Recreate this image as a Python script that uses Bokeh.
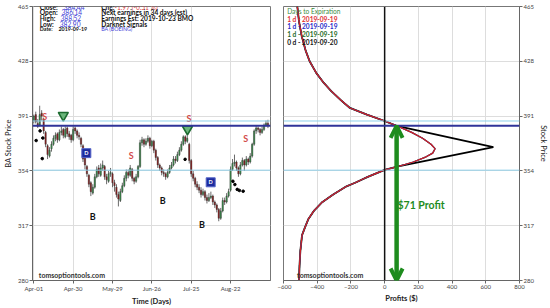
from bokeh.plotting import figure
from bokeh.layouts import row
from bokeh.models import ColumnDataSource, FixedTicker, Span, Label, Arrow, OpenHead
from bokeh.core.properties import value
from bokeh.embed import file_html
from bokeh.resources import INLINE

# ---------------- data ----------------
tick_idx = [0, 20, 40, 60, 80, 100]
tick_labels = ["Apr-01", "Apr-30", "May-29", "Jun-26", "Jul-25", "Aug-22"]
price_ticks = [280, 317, 354, 391, 428, 465]
profit_ticks = [-600, -400, -200, 0, 200, 400, 600, 800]

opens = [388, 392, 386, 385, 393, 389, 380, 371, 364, 369,
         372, 376, 379, 375, 380, 382, 377, 383, 379, 378,
         375, 383, 381, 378, 376, 371, 363, 357, 351, 346,
         339, 343, 350, 356, 351, 356, 357, 350, 347, 352,
         352, 346, 343, 338, 334, 340, 344, 349, 353, 351,
         355, 349, 347, 350, 357, 373, 375, 372, 374, 376,
         371, 374, 368, 363, 358, 356, 353, 352, 350, 353,
         356, 358, 362, 361, 365, 368, 372, 377, 374, 372,
         361, 352, 349, 345, 343, 341, 338, 340, 336, 334,
         336, 337, 333, 331, 328, 322, 327, 334, 333, 337,
         341, 355, 359, 360, 356, 352, 358, 361, 358, 362,
         360, 364, 372, 381, 383, 382, 380, 382, 385, 386.14]
highs = [392, 394, 389, 398, 395, 390, 381, 372, 370, 374,
         378, 380, 380, 382, 384, 383, 384, 384, 381, 379,
         384, 384, 382, 380, 377, 372, 364, 358, 352, 347,
         345, 352, 357, 358, 359, 361, 358, 352, 354, 356,
         353, 348, 345, 340, 342, 346, 351, 355, 355, 358,
         356, 350, 352, 358, 375, 377, 376, 376, 378, 377,
         375, 375, 369, 364, 359, 357, 355, 353, 355, 358,
         360, 364, 364, 367, 370, 374, 378, 378, 379, 373,
         362, 354, 350, 347, 345, 343, 342, 341, 338, 339,
         340, 338, 334, 332, 329, 329, 336, 336, 339, 342,
         357, 362, 365, 361, 357, 360, 363, 362, 364, 363,
         366, 373, 382, 385, 384, 383, 384, 386, 388, 388.52]
lows = [386, 386, 383, 384, 388, 379, 370, 362, 363, 367,
        371, 374, 373, 374, 378, 376, 376, 377, 375, 373,
        374, 379, 376, 375, 370, 360, 355, 350, 343, 337,
        338, 342, 349, 350, 350, 354, 348, 345, 346, 350,
        343, 340, 336, 330, 333, 339, 343, 347, 349, 350,
        347, 345, 346, 349, 356, 371, 370, 371, 373, 369,
        370, 366, 361, 356, 354, 351, 350, 348, 349, 352,
        355, 357, 359, 360, 364, 367, 371, 372, 373, 359,
        350, 347, 343, 341, 339, 336, 337, 334, 332, 333,
        335, 331, 329, 326, 320, 321, 326, 331, 332, 336,
        340, 354, 357, 354, 350, 351, 357, 354, 357, 358,
        359, 363, 371, 379, 380, 378, 379, 381, 384, 382.90]
closes = [391, 387, 384, 392, 391, 381, 372, 365, 368, 372,
          376, 378, 375, 380, 381, 378, 382, 379, 377, 375,
          382, 381, 378, 377, 372, 362, 358, 352, 345, 340,
          343, 350, 355, 352, 356, 358, 350, 348, 352, 353,
          346, 344, 338, 335, 340, 344, 349, 353, 351, 356,
          349, 347, 350, 357, 373, 375, 372, 374, 376, 371,
          374, 368, 363, 358, 356, 353, 352, 350, 353, 356,
          358, 362, 361, 365, 368, 372, 377, 374, 376, 361,
          352, 349, 345, 343, 341, 338, 340, 336, 334, 336,
          337, 333, 331, 328, 322, 327, 334, 333, 337, 340,
          355, 359, 360, 356, 352, 358, 361, 358, 362, 360,
          364, 372, 381, 383, 382, 380, 382, 385, 386.2, 384.44]

sell_idx = [5.6, 49.5, 78.8, 107.7]
sell_price = [391, 364.5, 389.5, 376]
buy_idx = [30, 65.5, 85.5]
buy_price = [323, 333.7, 317.5]
d_idx = [26.7, 89.9]
d_price = [366, 346.3]
v_idx = [15, 78.1]
v_price = [391.5, 382.2]
dot_idx = [1.2, 3.2, 4.6, 4.3, 76.9, 101.2, 102.2, 103.4, 104.5, 106.4]
dot_price = [374.5, 381, 376.2, 362.3, 361.8, 347, 344.8, 341.5, 340.8, 340.3]

last_close = 384.44
breakevens = [387.7, 354.5]

curve_price = [465, 455, 445, 435, 428, 420, 414, 408, 402, 396.5,
               392, 387.7, 384.44, 380, 376, 372, 369, 366, 363.5, 360,
               357, 354.7, 350, 346, 343.6, 338, 332.6, 327, 321.6, 316,
               310.6, 300, 290, 280]
curve_1d = [-518, -508, -492, -468, -445, -405, -365, -318, -262, -206,
            -105, 0, 71, 160, 225, 275, 299, 285, 246, 170,
            80, 0, -100, -175, -226, -305, -373, -420, -452, -472,
            -490, -500, -505, -508]
exp_price = [465, 455, 445, 435, 428, 420, 414, 408, 402, 396.5,
             392, 387.7, 384.44, 370, 357, 354.7, 350, 346, 343.6, 338,
             332.6, 327, 321.6, 316, 310.6, 300, 290, 280]
exp_0d = [-518, -508, -492, -468, -445, -405, -365, -318, -262, -206,
          -105, 0, 71, 645, 80, 0, -100, -175, -226, -305,
          -373, -420, -452, -472, -490, -500, -505, -508]
profit_now = 71

# ---------------- styling helpers ----------------
FONT = "Lato"
GREEN_C = "#3b8f4c"
RED_C = "#8e1c1c"
GRAY_C = "#cfcfcf"

XL = (-0.66, 120.3)
YR = (280, 465)
XR = (-600, 800)


def lx(px):
    return XL[0] + (px - 32) * (XL[1] - XL[0]) / 238.0


def ly(py):
    return YR[1] - (py - 6) * (YR[1] - YR[0]) / 279.0


def rx(px):
    return XR[0] + (px - 283) * (XR[1] - XR[0]) / 238.0


def style(p):
    p.background_fill_color = "white"
    p.border_fill_color = "white"
    p.outline_line_color = "#777777"
    p.grid.grid_line_color = "#dddddd"
    p.grid.grid_line_width = 1
    for ax in p.axis:
        ax.axis_line_color = "#666666"
        ax.major_tick_line_color = "#666666"
        ax.minor_tick_line_color = None
        ax.major_tick_out = 3
        ax.major_tick_in = 0
        ax.major_label_text_font = FONT
        ax.major_label_text_font_size = "6px"
        ax.major_label_text_color = "#444444"
        ax.major_label_standoff = 1
        ax.axis_label_text_font = FONT
        ax.axis_label_text_font_size = "7.5px"
        ax.axis_label_text_color = "#222222"
        ax.axis_label_standoff = 2


def lab(p, x, y, text, size="6.6px", bold=True, color="#111111"):
    p.add_layout(Label(x=x, y=y, text=text, text_font=FONT, text_font_size=size,
                       text_font_style="bold" if bold else "normal",
                       text_color=color, text_baseline="middle", level="overlay"))


# ---------------- left: candles ----------------
p1 = figure(width=277, height=308, x_range=XL, y_range=YR,
            output_backend="svg", toolbar_location=None,
            min_border_left=32, min_border_right=7, min_border_top=6, min_border_bottom=23)
style(p1)
p1.xaxis.ticker = FixedTicker(ticks=tick_idx)
p1.xaxis.major_label_overrides = {t: s for t, s in zip(tick_idx, tick_labels)}
p1.yaxis.ticker = FixedTicker(ticks=price_ticks)
p1.xaxis.axis_label = "Time (Days)"
p1.xaxis.axis_label_text_font_style = "bold"
p1.yaxis.axis_label = "BA Stock Price"
p1.yaxis.axis_label_text_font_style = "normal"

idx = list(range(len(closes)))
colors = []
for i in idx:
    prev = closes[i - 1] if i > 0 else opens[0]
    if closes[i] > opens[i] and closes[i] >= prev:
        colors.append(GREEN_C)
    elif closes[i] < opens[i] and closes[i] < prev:
        colors.append(RED_C)
    else:
        colors.append(GRAY_C)
src = ColumnDataSource(dict(
    x=idx, high=highs, low=lows,
    top=[max(o, c) for o, c in zip(opens, closes)],
    bottom=[min(o, c) for o, c in zip(opens, closes)],
    color=colors))

for b in breakevens:
    p1.add_layout(Span(location=b, dimension="width", line_color="#8fd0ea", line_width=1))
p1.add_layout(Span(location=last_close, dimension="width", line_color="#2f3399", line_width=2))

p1.segment(x0="x", y0="low", x1="x", y1="high", source=src, line_color="#444444", line_width=0.8)
p1.vbar(x="x", top="top", bottom="bottom", width=0.7, source=src,
        fill_color="color", line_color="#333333", line_width=0.4)

p1.scatter(dot_idx, dot_price, size=2.6, color="black", marker="circle")
p1.text(sell_idx, sell_price, text=["S"] * len(sell_idx), text_font=value(FONT),
        text_font_size="9px", text_font_style="bold", text_color="#d24a4a",
        text_align="center", text_baseline="middle")
p1.text(buy_idx, buy_price, text=["B"] * len(buy_idx), text_font=value(FONT),
        text_font_size="9px", text_font_style="bold", text_color="#111111",
        text_align="center", text_baseline="middle")
p1.scatter(d_idx, d_price, marker="square", size=9, fill_color="#1d2b9e",
           line_color="#5565c8", line_width=1)
p1.text(d_idx, d_price, text=["D"] * len(d_idx), text_font=value(FONT),
        text_font_size="5.5px", text_font_style="bold", text_color="white",
        text_align="center", text_baseline="middle")
p1.scatter(v_idx, v_price, marker="inverted_triangle", size=10, fill_color="#6ab67a",
           line_color="#1d6b30", line_width=1.6)

# info box
info_rows = [6, 11.8, 17.6, 23.4]
left_lab = ["Close:", "Open:", "High:", "Low:"]
left_val = ["384.44", "386.14", "388.52", "382.90"]
val_px = [63.3, 61.0, 60.0, 59.3]
for r, t, v, vx in zip(info_rows, left_lab, left_val, val_px):
    lab(p1, lx(39.3), ly(r), t)
    lab(p1, lx(vx), ly(r), v, bold=False, color="#3b3bd6")
lab(p1, lx(39.3), ly(29), "Date:", size="5.3px")
lab(p1, lx(58), ly(29), "2019-09-19", size="5.3px")
lab(p1, lx(100.7), ly(6), "Chg:")
lab(p1, lx(114), ly(6), "-1.97  (-0.51 %)", bold=False, color="#e04040")
for r, t in zip(info_rows[1:], ["Next earnings in 34 days  (est)",
                                "Earnings Est: 2019-10-23 BMO", "Darknet Signals"]):
    lab(p1, lx(100.7), ly(r), t)
lab(p1, lx(100.7), ly(29), "BA (BOEING)", size="5.3px", bold=False, color="#3b3bd6")
lab(p1, lx(38.3), ly(279.3), "tomsoptiontools.com", size="7px", color="#333333")

# ---------------- right: profit curves ----------------
p2 = figure(width=273, height=308, x_range=XR, y_range=YR, y_axis_location="right",
            output_backend="svg", toolbar_location=None,
            min_border_left=6, min_border_right=29, min_border_top=6, min_border_bottom=23)
style(p2)
p2.xaxis.ticker = FixedTicker(ticks=profit_ticks)
p2.yaxis.ticker = FixedTicker(ticks=price_ticks)
p2.xaxis.axis_label = "Profits ($)"
p2.xaxis.axis_label_text_font_style = "bold"
p2.yaxis.axis_label = "Stock Price"
p2.yaxis.axis_label_text_font_style = "normal"

for b in breakevens:
    p2.add_layout(Span(location=b, dimension="width", line_color="#8fd0ea", line_width=1))
p2.add_layout(Span(location=0, dimension="height", line_color="#111111", line_width=1.5))
p2.add_layout(Span(location=last_close, dimension="width", line_color="#2f3399", line_width=2))

p2.line(exp_0d, exp_price, line_color="black", line_width=1.8)
p2.line(curve_1d, curve_price, line_color="#2e7d32", line_width=1.2)
p2.line(curve_1d, curve_price, line_color="#2233bb", line_width=1.2)
p2.line(curve_1d, curve_price, line_color="#d42020", line_width=1.2)

p2.add_layout(Arrow(x_start=profit_now, y_start=YR[0], x_end=profit_now, y_end=last_close,
                    line_color="#1e8c1e", line_width=4.5,
                    start=OpenHead(size=12, line_color="#1e8c1e", line_width=4),
                    end=OpenHead(size=12, line_color="#1e8c1e", line_width=4)))
lab(p2, rx(398), ly(207.7), "$71 Profit", size="10.5px", color="#1e8c1e")

leg_text = ["Days to Expiration", "1 d - 2019-09-19", "1 d - 2019-09-19",
            "1 d - 2019-09-19", "0 d - 2019-09-20"]
leg_col = ["#3c8c3c", "#e03030", "#2a2ac8", "#1f6b1f", "#111111"]
for r, t, c in zip([11, 18.3, 26, 34, 42.3], leg_text, leg_col):
    lab(p2, rx(286.7), ly(r), t, bold=(t[0] != "D"), color=c)
lab(p2, rx(296.7), ly(279.3), "tomsoptiontools.com", size="7px", color="#333333")

layout = row(p1, p2, spacing=0)
open("out.html", "w").write(file_html(layout, INLINE))
